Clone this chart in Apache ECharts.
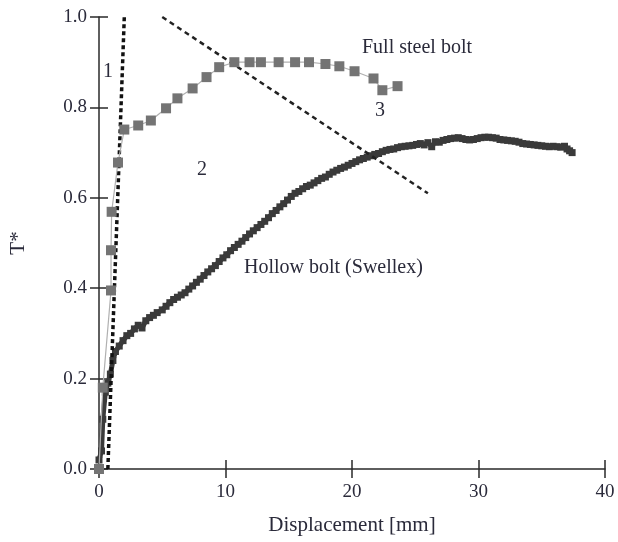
<!DOCTYPE html>
<html>
<head>
<meta charset="utf-8">
<script src="https://cdn.jsdelivr.net/npm/echarts@6/dist/echarts.min.js"></script>
<style>
html,body{margin:0;padding:0;background:#fff;}
#chart{width:618px;height:542px;}
</style>
</head>
<body>
<div id="chart"></div>
<script>
// Full steel bolt: displacement [mm] and normalised load T*
var steelX = [0, 0.3, 0.95, 0.95, 1.0, 1.5, 2.0, 3.1, 4.1, 5.3, 6.2, 7.4, 8.5, 9.5, 10.7, 11.9, 12.8, 14.2, 15.5, 16.6, 17.9, 19.0, 20.2, 21.7, 22.4, 23.6];
var steelY = [0, 0.18, 0.395, 0.484, 0.569, 0.678, 0.751, 0.76, 0.771, 0.798, 0.82, 0.842, 0.867, 0.889, 0.9, 0.9, 0.9, 0.9, 0.9, 0.9, 0.896, 0.891, 0.88, 0.864, 0.838, 0.847];

// Hollow bolt (Swellex)
var hollowX = [0, 0.2, 0.3, 0.5, 0.7, 0.9, 1.1, 1.3, 1.6, 1.9, 2.2, 2.5, 2.8, 3.1, 3.4, 3.7, 4.0, 4.3, 4.6, 5.0, 5.3, 5.6, 5.9, 6.2, 6.5, 6.8, 7.1, 7.4, 7.7, 8.0, 8.3, 8.6, 8.9, 9.2, 9.5, 9.8, 10.1, 10.4, 10.7, 11.0, 11.3, 11.6, 11.9, 12.2, 12.5, 12.8, 13.1, 13.4, 13.7, 14.0, 14.3, 14.6, 14.9, 15.2, 15.5, 15.8, 16.1, 16.4, 16.7, 17.0, 17.3, 17.6, 17.9, 18.2, 18.5, 18.8, 19.1, 19.4, 19.7, 20.0, 20.3, 20.6, 20.9, 21.2, 21.5, 21.8, 22.1, 22.4, 22.7, 23.0, 23.3, 23.6, 23.9, 24.2, 24.5, 24.8, 25.1, 25.4, 25.7, 26.0, 26.3, 26.6, 26.9, 27.2, 27.5, 27.8, 28.1, 28.4, 28.7, 29.0, 29.3, 29.6, 29.9, 30.2, 30.5, 30.8, 31.1, 31.4, 31.7, 32.0, 32.3, 32.6, 32.9, 33.2, 33.5, 33.8, 34.1, 34.4, 34.7, 35.0, 35.3, 35.6, 35.9, 36.2, 36.5, 36.8, 37.0, 37.2, 37.4];
var hollowY = [0.02, 0.04, 0.11, 0.17, 0.19, 0.21, 0.24, 0.26, 0.272, 0.284, 0.295, 0.30, 0.31, 0.318, 0.312, 0.328, 0.335, 0.34, 0.346, 0.352, 0.36, 0.368, 0.375, 0.38, 0.385, 0.39, 0.398, 0.405, 0.413, 0.42, 0.428, 0.436, 0.443, 0.45, 0.459, 0.467, 0.474, 0.483, 0.49, 0.497, 0.504, 0.512, 0.52, 0.527, 0.534, 0.541, 0.548, 0.556, 0.565, 0.572, 0.58, 0.587, 0.595, 0.603, 0.61, 0.614, 0.62, 0.625, 0.628, 0.633, 0.638, 0.643, 0.646, 0.652, 0.657, 0.661, 0.665, 0.668, 0.672, 0.676, 0.68, 0.684, 0.687, 0.69, 0.693, 0.696, 0.698, 0.702, 0.705, 0.707, 0.708, 0.711, 0.713, 0.714, 0.715, 0.716, 0.718, 0.72, 0.717, 0.722, 0.713, 0.724, 0.723, 0.727, 0.729, 0.731, 0.732, 0.733, 0.731, 0.729, 0.728, 0.729, 0.731, 0.733, 0.734, 0.734, 0.733, 0.732, 0.729, 0.728, 0.727, 0.726, 0.725, 0.723, 0.72, 0.719, 0.718, 0.717, 0.716, 0.715, 0.714, 0.713, 0.714, 0.713, 0.712, 0.714, 0.708, 0.704, 0.70];

// Straight reference lines 1 (initial stiffness) and 3
var line1X = [0.7, 2.0];
var line1Y = [0, 1.0];
var line3X = [5, 26];
var line3Y = [1.0, 0.61];

var xTicks = [0, 10, 20, 30, 40];
var yTicks = [0.0, 0.2, 0.4, 0.6, 0.8, 1.0];

function pairs(xs, ys) {
  return xs.map(function (x, i) { return [x, ys[i]]; });
}

var serif = '"Liberation Serif", "DejaVu Serif", serif';
var textColor = '#2a2a3a';
var axisColor = '#2a2a2a';

var chart = echarts.init(document.getElementById('chart'));

var baseX = {
  type: 'value', min: xTicks[0], max: xTicks[xTicks.length - 1], interval: 10,
  splitLine: { show: false }
};
var baseY = {
  type: 'value', min: yTicks[0], max: yTicks[yTicks.length - 1], interval: 0.2,
  splitLine: { show: false }
};
var tickLine = { color: axisColor, width: 1.5 };

chart.setOption({
  animation: false,
  backgroundColor: '#fff',
  grid: { left: 97, right: 13, top: 17, bottom: 73 },
  xAxis: [
    Object.assign({}, baseX, {
      name: 'Displacement [mm]', nameLocation: 'middle', nameGap: 46,
      nameTextStyle: { fontFamily: serif, fontSize: 21, color: textColor },
      axisLine: { onZero: false, lineStyle: { color: axisColor, width: 1.5 } },
      axisTick: { length: 9, lineStyle: tickLine },
      axisLabel: { fontFamily: serif, fontSize: 19, color: textColor, margin: 14 }
    }),
    Object.assign({}, baseX, {
      position: 'bottom',
      axisLine: { show: false },
      axisTick: { inside: true, length: 9, lineStyle: tickLine },
      axisLabel: { show: false }
    })
  ],
  yAxis: [
    Object.assign({}, baseY, {
      name: 'T*', nameLocation: 'middle', nameGap: 70, nameRotate: 90,
      nameTextStyle: { fontFamily: serif, fontSize: 21, color: textColor },
      axisLine: { onZero: false, lineStyle: { color: axisColor, width: 1.5 } },
      axisTick: { length: 9, lineStyle: tickLine },
      axisLabel: {
        fontFamily: serif, fontSize: 19, color: textColor, margin: 12,
        formatter: function (v) { return v.toFixed(1); }
      }
    }),
    Object.assign({}, baseY, {
      position: 'left',
      axisLine: { show: false },
      axisTick: { inside: true, length: 9, lineStyle: tickLine },
      axisLabel: { show: false }
    })
  ],
  series: [
    {
      name: 'Line 1', type: 'line', data: pairs(line1X, line1Y),
      symbol: 'none', z: 3,
      lineStyle: { color: '#111', width: 3.5, type: [4, 3] }
    },
    {
      name: 'Line 3', type: 'line', data: pairs(line3X, line3Y),
      symbol: 'none', z: 3,
      lineStyle: { color: '#222', width: 2.5, type: [5, 4] }
    },
    {
      name: 'Hollow bolt (Swellex)', type: 'line', data: pairs(hollowX, hollowY),
      symbol: 'rect', symbolSize: 7, showAllSymbol: true, z: 2,
      itemStyle: { color: '#3a3a3a' },
      lineStyle: { color: '#3a3a3a', width: 5 }
    },
    {
      name: 'Full steel bolt', type: 'line', data: pairs(steelX, steelY),
      symbol: 'rect', symbolSize: 10, showAllSymbol: true, z: 4,
      itemStyle: { color: '#747474' },
      lineStyle: { color: '#b0b0b0', width: 1.2 }
    }
  ],
  graphic: [
    { type: 'text', left: 103, top: 62, style: { text: '1', font: '20px ' + serif, fill: textColor } },
    { type: 'text', left: 197, top: 160, style: { text: '2', font: '20px ' + serif, fill: textColor } },
    { type: 'text', left: 375, top: 101, style: { text: '3', font: '20px ' + serif, fill: textColor } },
    { type: 'text', left: 362, top: 38, style: { text: 'Full steel bolt', font: '20px ' + serif, fill: textColor } },
    { type: 'text', left: 244, top: 258, style: { text: 'Hollow bolt (Swellex)', font: '20px ' + serif, fill: textColor } }
  ]
});
</script>
</body>
</html>
